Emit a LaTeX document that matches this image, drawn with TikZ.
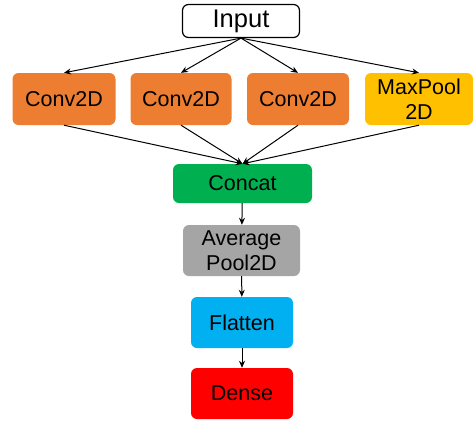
\documentclass[tikz,border=0pt]{standalone}
\usepackage{fontspec}
\setmainfont{Liberation Sans}
\usepackage{xcolor}
\usetikzlibrary{arrows.meta}

\definecolor{convorange}{HTML}{ED7D31}
\definecolor{poolyellow}{HTML}{FFC000}
\definecolor{catgreen}{HTML}{00B050}
\definecolor{avggray}{HTML}{A5A5A5}
\definecolor{flatblue}{HTML}{00B0F0}
\definecolor{densered}{HTML}{FF0000}

\begin{document}
\begin{tikzpicture}[x=1pt, y=-1pt,
  layer/.style={rounded corners=6pt, inner sep=0pt, align=center,
    font=\fontsize{21.5}{25}\selectfont},
  link/.style={-{Stealth[length=7pt,width=6pt]}, line width=1pt}]
\useasboundingbox (0,0) rectangle (475,424);

\node[layer, draw, line width=1.2pt, fill=white, minimum width=117pt, minimum height=33pt,
  font=\fontsize{25.5}{30}\selectfont] (in) at (241,21) {Input};

\node[layer, fill=convorange, minimum width=103pt, minimum height=52pt] (c1) at (64,99) {Conv2D};
\node[layer, fill=convorange, minimum width=101pt, minimum height=52pt] (c2) at (181,99) {Conv2D};
\node[layer, fill=convorange, minimum width=102pt, minimum height=52pt] (c3) at (298,99) {Conv2D};
\node[layer, fill=poolyellow, minimum width=108pt, minimum height=52pt] (mp) at (419,99) {MaxPool\\2D};

\node[layer, fill=catgreen, minimum width=139pt, minimum height=39pt] (cat) at (242.5,183.5) {Concat};
\node[layer, fill=avggray, minimum width=117pt, minimum height=51pt] (avg) at (241.5,250.5) {Average\\Pool2D};
\node[layer, fill=flatblue, minimum width=102pt, minimum height=51pt] (fl) at (242,322.5) {Flatten};
\node[layer, fill=densered, minimum width=102pt, minimum height=51pt] (ds) at (242,393.5) {Dense};

\draw[link] (in.south) -- (c1.north);
\draw[link] (in.south) -- (c2.north);
\draw[link] (in.south) -- (c3.north);
\draw[link] (in.south) -- (mp.north);

\draw[link] (c1.south) -- (cat.north);
\draw[link] (c2.south) -- (cat.north);
\draw[link] (c3.south) -- (cat.north);
\draw[link] (mp.south) -- (cat.north);

\draw[link] (cat) -- (avg);
\draw[link] (avg) -- (fl);
\draw[link] (fl) -- (ds);
\end{tikzpicture}
\end{document}
